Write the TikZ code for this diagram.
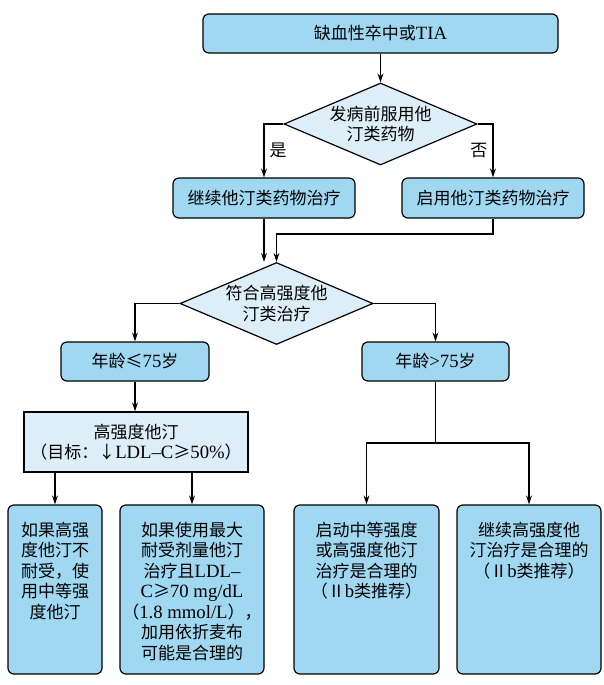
\documentclass[tikz,border=0pt]{standalone}
\usepackage{fontspec}
\setmainfont{Noto Sans CJK SC}
\newfontfamily\lat{Liberation Serif}[Scale=1.1]
\usetikzlibrary{shapes.geometric,arrows.meta}
\definecolor{boxfill}{RGB}{160,216,241}
\definecolor{diafill}{RGB}{221,238,249}
\newcommand\boxfont{\fontsize{17}{20.5}\selectfont}

\begin{document}
\begin{tikzpicture}[x=1pt,y=-1pt,line width=1.2pt,>={Stealth[length=9pt,width=6pt]},
  box/.style={draw,fill=boxfill,rounded corners=6pt,inner sep=0pt,align=center,font=\boxfont},
  tall/.style={box,minimum height=169pt},
  dia/.style={draw,fill=diafill,diamond,shape aspect=2.3,inner sep=0pt,
    minimum width=193pt,minimum height=82pt,align=center,font=\boxfont},
  txt/.style={inner sep=0pt,align=center,font=\boxfont,anchor=north},
  lbl/.style={inner sep=5pt,font=\boxfont}]
  \useasboundingbox (0,0) rectangle (603,685);
  % first question
  \node[box,minimum width=355pt,minimum height=39pt] (tia) at (380.5,33.5) {缺血性卒中或{\lat TIA}};
  \node[dia] (pre) at (380.5,124) {发病前服用他\\汀类药物};
  \node[box,minimum width=182pt,minimum height=40pt] (cont) at (264,198) {继续他汀类药物治疗};
  \node[box,minimum width=182pt,minimum height=40pt] (start) at (493,198) {启用他汀类药物治疗};
  \draw[->] (tia) -- (pre);
  \draw[->] (pre.west) -| node[lbl,pos=.75,right] (yes) {是} (cont.north);
  \draw[->] (pre.east) -| node[lbl,pos=.75,left] (no) {否} (start.north);
  % second question
  \node[dia] (fit) at (276.5,303.5) {符合高强度他\\汀类治疗};
  \coordinate (j1) at (276.5,234);
  \draw[->] (cont.south) -- (cont.south |- fit.north);
  \draw[->] (start.south) |- (j1) -- (fit.north);
  \node[box,minimum width=148pt,minimum height=39pt] (young) at (135,361.5) {年龄≤{\lat 75}岁};
  \node[box,minimum width=147pt,minimum height=39pt] (old) at (435.5,361.5) {年龄{\lat >75}岁};
  \draw[->] (fit.west) -| (young.north);
  \draw[->] (fit.east) -| (old.north);
  % high intensity
  \node[box,fill=diafill,rounded corners=0pt,minimum width=224pt,minimum height=60pt] (high) at (136,442)
    {高强度他汀\\（目标：↓{\lat LDL–C}≥{\lat 50\%}）};
  \draw[->] (young.south) -- (young.south |- high.north);
  % bottom row
  \node[tall,minimum width=94pt] (b1) at (55,589.5) {};
  \node[tall,minimum width=144pt] (b2) at (192,589.5) {};
  \node[tall,minimum width=145pt] (b3) at (366.5,589.5) {};
  \node[tall,minimum width=144pt] (b4) at (529,589.5) {};
  \node[txt] (t1) at ([yshift=-17pt]b1.north) {如果高强\\度他汀不\\耐受，使\\用中等强\\度他汀};
  \node[txt] (t2) at ([yshift=-17pt]b2.north) {如果使用最大\\耐受剂量他汀\\治疗且{\lat LDL–}\\{\lat C}≥{\lat 70 mg/dL}\\（{\lat 1.8 mmol/L}），\\加用依折麦布\\可能是合理的};
  \node[txt] (t3) at ([yshift=-17pt]b3.north) {启动中等强度\\或高强度他汀\\治疗是合理的\\（Ⅱ{\lat b}类推荐）};
  \node[txt] (t4) at ([yshift=-17pt]b4.north) {继续高强度他\\汀治疗是合理的\\（Ⅱ{\lat b}类推荐）};
  \draw[->] (b1.north |- high.south) -- (b1.north);
  \draw[->] (b2.north |- high.south) -- (b2.north);
  \coordinate (j2) at (435.5,443);
  \draw (old.south) -- (j2);
  \draw[->] (j2) -| (b3.north);
  \draw[->] (j2) -| (b4.north);
\end{tikzpicture}
\end{document}
